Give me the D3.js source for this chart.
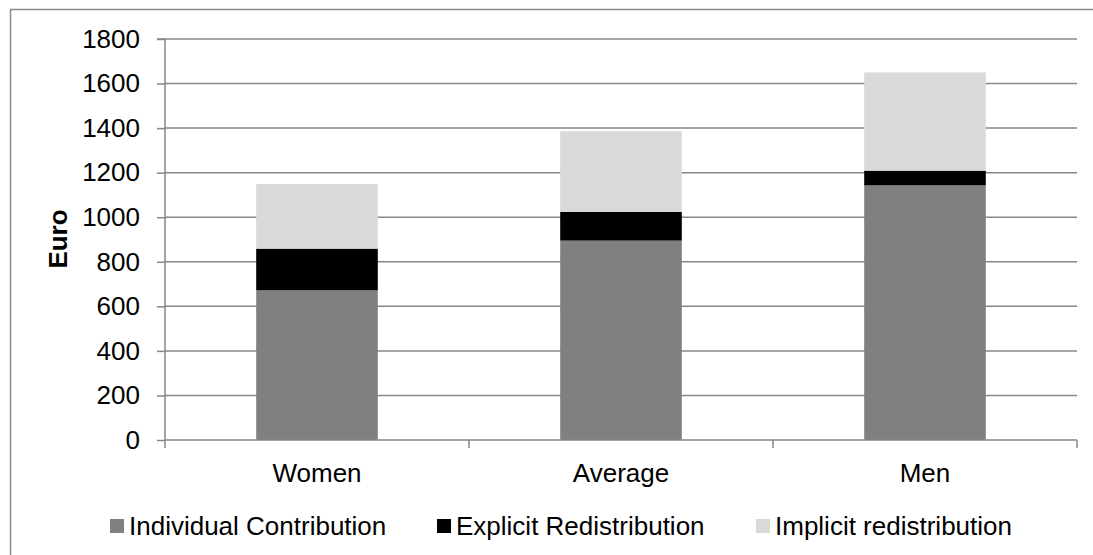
<!DOCTYPE html>
<html>
<head>
<meta charset="utf-8">
<script src="https://cdn.jsdelivr.net/npm/d3@7"></script>
<style>
  html, body { margin: 0; padding: 0; background: #fff; }
  svg { display: block; font-family: "Liberation Sans", Arial, sans-serif; }
</style>
</head>
<body>
<svg id="chart" width="1093" height="555"></svg>
<script>
const categories = ["Women", "Average", "Men"];
const seriesNames = ["Individual Contribution", "Explicit Redistribution", "Implicit redistribution"];
const individualContribution = [672, 895, 1143];
const explicitRedistribution = [187, 129, 66];
const implicitRedistribution = [290, 362, 441];
const yTicks = [0, 200, 400, 600, 800, 1000, 1200, 1400, 1600, 1800];
const seriesColors = ["#808080", "#000000", "#d9d9d9"];

const svg = d3.select("#chart");
const plot = { left: 165, right: 1077, top: 39, bottom: 440 };
const FS = 26;

// outer border
svg.append("rect")
  .attr("x", 10.5).attr("y", 9.5)
  .attr("width", 1090).attr("height", 560)
  .attr("fill", "#fff").attr("stroke", "#898989").attr("stroke-width", 1.5);

const rows = categories.map((c, i) => ({
  category: c,
  "Individual Contribution": individualContribution[i],
  "Explicit Redistribution": explicitRedistribution[i],
  "Implicit redistribution": implicitRedistribution[i]
}));

const x = d3.scaleBand().domain(categories)
  .range([plot.left, plot.right])
  .paddingInner(0.6).paddingOuter(0.3);
const y = d3.scaleLinear().domain([0, 1800]).range([plot.bottom, plot.top]);
const color = d3.scaleOrdinal().domain(seriesNames).range(seriesColors);

// gridlines
svg.append("g")
  .selectAll("line")
  .data(yTicks.filter(d => d > 0))
  .join("line")
  .attr("x1", plot.left).attr("x2", plot.right)
  .attr("y1", d => y(d)).attr("y2", d => y(d))
  .attr("stroke", "#878787").attr("stroke-width", 1.5);

// bars
const stacked = d3.stack().keys(seriesNames)(rows);
svg.append("g")
  .selectAll("g")
  .data(stacked)
  .join("g")
  .attr("fill", d => color(d.key))
  .selectAll("rect")
  .data(d => d)
  .join("rect")
  .attr("x", d => x(d.data.category))
  .attr("width", x.bandwidth())
  .attr("y", d => y(d[1]))
  .attr("height", d => y(d[0]) - y(d[1]));

// y axis
const yAxis = d3.axisLeft(y).tickValues(yTicks).tickFormat(d3.format("d")).tickSize(8).tickPadding(17);
const gy = svg.append("g").attr("transform", `translate(${plot.left},0)`).call(yAxis);
gy.select(".domain").attr("stroke", "#878787").attr("stroke-width", 1.5)
  .attr("d", `M-8,${plot.top}H0V${plot.bottom}`);
gy.selectAll(".tick line").attr("stroke", "#878787").attr("stroke-width", 1.5);
gy.selectAll(".tick text").attr("font-size", FS).attr("fill", "#000")
  .attr("font-family", "Liberation Sans, Arial, sans-serif");

// x axis
const gx = svg.append("g").attr("transform", `translate(0,${plot.bottom})`);
gx.append("line")
  .attr("x1", plot.left).attr("x2", plot.right)
  .attr("stroke", "#878787").attr("stroke-width", 1.5);
const bounds = [plot.left].concat(categories.map(c => x(c) - x.step() * x.paddingInner() / 2 + x.step()));
gx.selectAll("line.sep")
  .data(bounds)
  .join("line").attr("class", "sep")
  .attr("x1", d => d).attr("x2", d => d)
  .attr("y1", 0).attr("y2", 8)
  .attr("stroke", "#878787").attr("stroke-width", 1.5);
gx.selectAll("text")
  .data(categories)
  .join("text")
  .attr("x", d => x(d) + x.bandwidth() / 2)
  .attr("y", 42)
  .attr("text-anchor", "middle")
  .attr("font-size", FS)
  .text(d => d);

// y label
svg.append("text")
  .attr("transform", `translate(67,239) rotate(-90)`)
  .attr("text-anchor", "middle")
  .attr("font-size", FS)
  .attr("font-weight", "bold")
  .text("Euro");

// legend
const legendX = [110, 437, 756];
const lg = svg.append("g").selectAll("g")
  .data(seriesNames)
  .join("g")
  .attr("transform", (d, i) => `translate(${legendX[i]},0)`);
lg.append("rect")
  .attr("x", 0).attr("y", 519)
  .attr("width", 14).attr("height", 14)
  .attr("fill", d => color(d));
lg.append("text")
  .attr("x", 19).attr("y", 535)
  .attr("font-size", FS)
  .text(d => d);
</script>
</body>
</html>
